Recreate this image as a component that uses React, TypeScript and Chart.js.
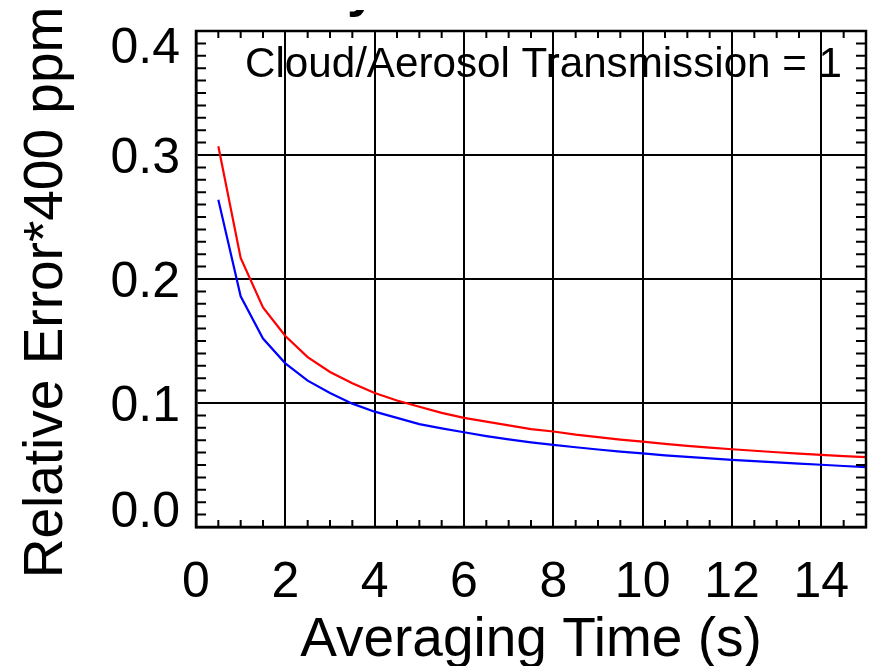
import React, { useEffect, useRef } from "react";
import { Chart, registerables } from "chart.js";

Chart.register(...registerables);

// ---- data ----
const averagingTime = [
  0.5, 1.0, 1.5, 2.0, 2.5, 3.0, 3.5, 4.0, 4.5, 5.0,
  5.5, 6.0, 6.5, 7.0, 7.5, 8.0, 8.5, 9.0, 9.5, 10.0,
  10.5, 11.0, 11.5, 12.0, 12.5, 13.0, 13.5, 14.0, 14.5, 15.0,
];
const errorRed = [
  0.307, 0.217, 0.177, 0.154, 0.137, 0.125, 0.116, 0.108, 0.102, 0.097,
  0.092, 0.088, 0.085, 0.082, 0.079, 0.077, 0.0745, 0.0725, 0.0705, 0.0688,
  0.067, 0.0655, 0.064, 0.0627, 0.0615, 0.0603, 0.0592, 0.0582, 0.0572, 0.0563,
];
const errorBlue = [
  0.264, 0.186, 0.152, 0.132, 0.118, 0.108, 0.0995, 0.093, 0.088, 0.083,
  0.0795, 0.0764, 0.0733, 0.0706, 0.0683, 0.0663, 0.0643, 0.0625, 0.0608, 0.0593,
  0.0578, 0.0565, 0.0553, 0.0542, 0.0531, 0.0521, 0.0511, 0.0502, 0.0492, 0.0483,
];

const xTickValues = [0, 2, 4, 6, 8, 10, 12, 14];
const xTickLabels = ["0", "2", "4", "6", "8", "10", "12", "14"];
const yTickValues = [0.0, 0.1, 0.2, 0.3, 0.4];
const yTickLabels = ["0.0", "0.1", "0.2", "0.3", "0.4"];
const xMinorStep = 0.5;
const yMinorStep = 0.01;

const xTitle = "Averaging Time (s)";
const yTitle = "Relative Error*400 ppm";
const annotationText = "Cloud/Aerosol Transmission = 1";
const cutTitleFragment = "y";

const FONT = '"Liberation Sans", Arial, Helvetica, sans-serif';

const decorPlugin = {
  id: "idlDecor",
  afterDraw(chart: any) {
    const ctx: CanvasRenderingContext2D = chart.ctx;
    const area = chart.chartArea;
    const xs = chart.scales.x;
    const ys = chart.scales.y;
    ctx.save();

    // minor ticks (inward, all four sides)
    ctx.strokeStyle = "#000";
    ctx.lineWidth = 2;
    ctx.beginPath();
    const xMinorLen = 7;
    const yMinorLen = 10;
    for (let k = 1; k * xMinorStep < xs.max; k++) {
      const v = k * xMinorStep;
      if (Math.abs(v / 2 - Math.round(v / 2)) < 1e-6) continue;
      const px = xs.getPixelForValue(v);
      ctx.moveTo(px, area.bottom);
      ctx.lineTo(px, area.bottom - xMinorLen);
      ctx.moveTo(px, area.top);
      ctx.lineTo(px, area.top + xMinorLen);
    }
    for (let k = 1; k * yMinorStep < ys.max - 1e-9; k++) {
      const v = k * yMinorStep;
      if (k % 10 === 0) continue;
      const py = ys.getPixelForValue(v);
      ctx.moveTo(area.left, py);
      ctx.lineTo(area.left + yMinorLen, py);
      ctx.moveTo(area.right, py);
      ctx.lineTo(area.right - yMinorLen, py);
    }
    ctx.stroke();

    // frame
    ctx.lineWidth = 2.5;
    ctx.strokeRect(area.left, area.top, area.right - area.left, area.bottom - area.top);

    ctx.fillStyle = "#000";
    // y tick labels (end labels kept inside the axis span)
    ctx.font = `50px ${FONT}`;
    ctx.textAlign = "right";
    ctx.textBaseline = "alphabetic";
    yTickValues.forEach((v, i) => {
      const py = ys.getPixelForValue(v);
      let base = py + 18;
      base = Math.max(base, area.top + 32);
      base = Math.min(base, area.bottom);
      ctx.fillText(yTickLabels[i], area.left - 16, base);
    });

    // x tick labels
    ctx.textAlign = "center";
    xTickValues.forEach((v, i) => {
      const px = xs.getPixelForValue(v);
      ctx.fillText(xTickLabels[i], px, area.bottom + 70);
    });

    // axis titles
    ctx.font = `55px ${FONT}`;
    ctx.textAlign = "center";
    ctx.fillText(xTitle, (area.left + area.right) / 2, area.bottom + 129);
    ctx.save();
    ctx.translate(62, 292.5);
    ctx.rotate(-Math.PI / 2);
    ctx.fillText(yTitle, 0, 0);
    ctx.restore();

    // annotation inside the plot (fit between x=246 and x=842)
    ctx.save();
    ctx.font = `43px ${FONT}`;
    ctx.textAlign = "left";
    const w = ctx.measureText(annotationText).width;
    const targetW = 597;
    const sx = targetW / w;
    ctx.translate(245, 77);
    ctx.scale(sx, 1);
    ctx.fillText(annotationText, 0, 0);
    ctx.restore();

    // cut-off main title fragment at the very top
    ctx.save();
    ctx.beginPath();
    ctx.rect(0, 10, chart.width, 12);
    ctx.clip();
    ctx.font = `bold 54px ${FONT}`;
    ctx.textAlign = "left";
    ctx.fillText(cutTitleFragment, 347, 6);
    ctx.restore();

    ctx.restore();
  },
};

export default function App() {
  const canvasRef = useRef<HTMLCanvasElement | null>(null);

  useEffect(() => {
    document.body.style.margin = "0";
    const canvas = canvasRef.current;
    if (!canvas) return;
    const chart = new Chart(canvas, {
      type: "line",
      data: {
        datasets: [
          {
            label: "red",
            data: averagingTime.map((t, i) => ({ x: t, y: errorRed[i] })),
            borderColor: "#ff0000",
            borderWidth: 2.2,
            pointRadius: 0,
            tension: 0,
            fill: false,
          },
          {
            label: "blue",
            data: averagingTime.map((t, i) => ({ x: t, y: errorBlue[i] })),
            borderColor: "#0000ff",
            borderWidth: 2.2,
            pointRadius: 0,
            tension: 0,
            fill: false,
          },
        ],
      },
      options: {
        animation: false,
        responsive: true,
        maintainAspectRatio: false,
        layout: { padding: { left: 196, right: 3, top: 31, bottom: 139 } },
        plugins: {
          legend: { display: false },
          tooltip: { enabled: false },
          title: { display: false },
        },
        scales: {
          x: {
            type: "linear",
            min: 0,
            max: 15,
            ticks: { display: false, stepSize: 2, includeBounds: false },
            grid: { color: "#000", lineWidth: 2, drawTicks: false },
            border: { color: "#000", width: 2.5 },
          },
          y: {
            type: "linear",
            min: 0,
            max: 0.4,
            ticks: { display: false, stepSize: 0.1 },
            grid: { color: "#000", lineWidth: 2, drawTicks: false },
            border: { color: "#000", width: 2.5 },
          },
        },
      },
      plugins: [decorPlugin],
    });
    return () => chart.destroy();
  }, []);

  return (
    <div style={{ position: "absolute", left: 0, top: 0, width: 869, height: 666, background: "#fff" }}>
      <canvas ref={canvasRef} />
    </div>
  );
}
